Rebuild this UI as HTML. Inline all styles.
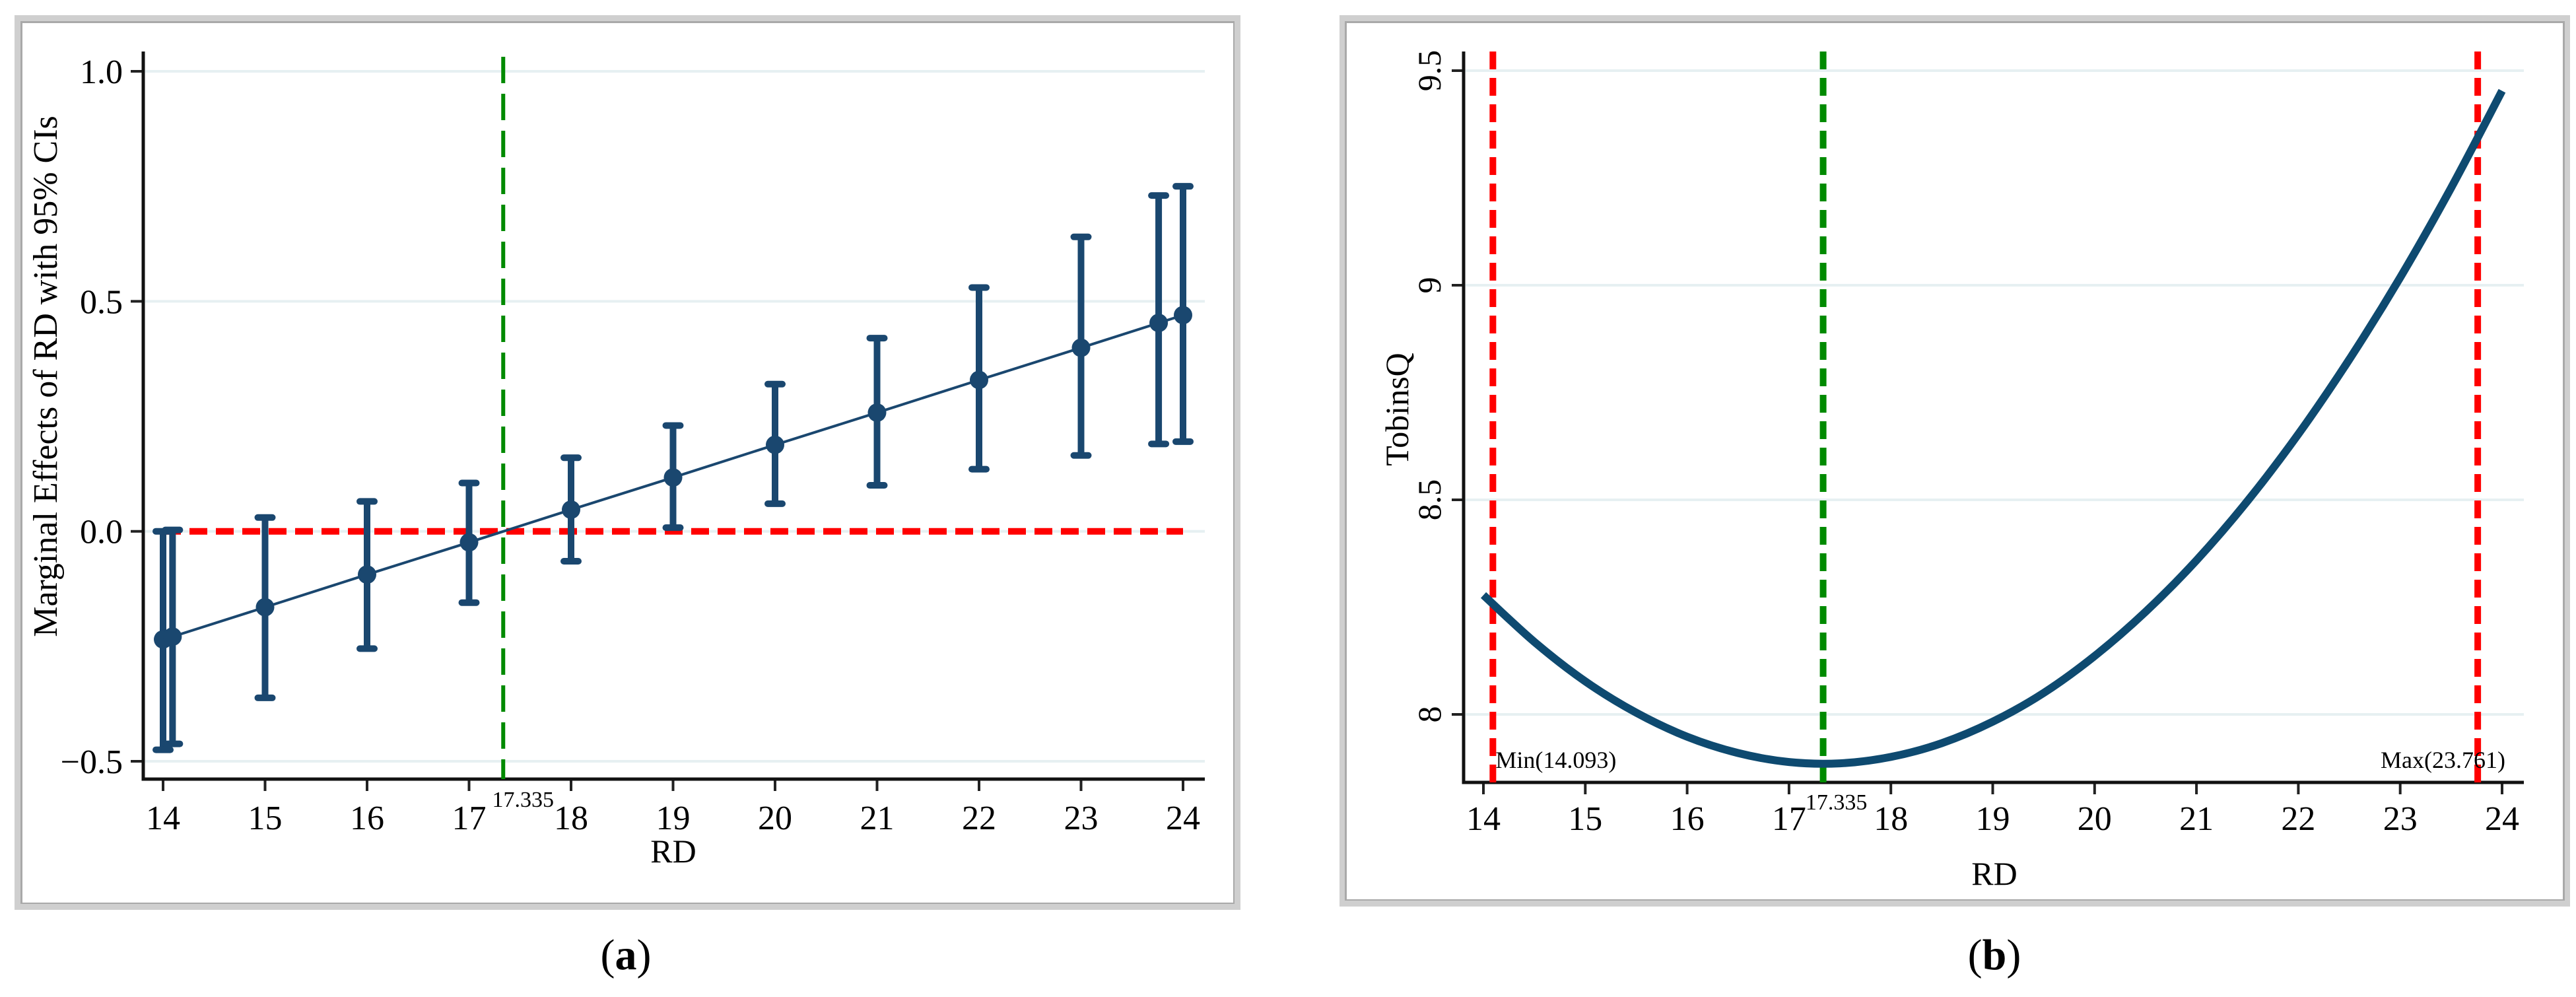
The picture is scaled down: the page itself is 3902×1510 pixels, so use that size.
<!DOCTYPE html>
<html><head><meta charset="utf-8"><style>
html,body{margin:0;padding:0;background:#fff;}
svg{display:block;}
svg text{font-family:"Liberation Serif","Times New Roman",serif;}
</style></head><body>
<svg id="fig" width="3902" height="1510" viewBox="0 0 3902 1510" xmlns="http://www.w3.org/2000/svg" font-family="Liberation Serif, serif">
<rect x="22" y="23" width="1857" height="1355" fill="#cfcfcf"/>
<rect x="31" y="32" width="1839" height="1337" fill="#a9a9a9"/>
<rect x="34" y="35" width="1834" height="1332" fill="#fff"/>
<rect x="2029" y="23" width="1864" height="1350" fill="#cfcfcf"/>
<rect x="2037" y="32" width="1848" height="1332" fill="#a9a9a9"/>
<rect x="2040" y="35" width="1842" height="1327" fill="#fff"/>
<g id="pa"></g>
<g id="pb"></g>
<text x="948" y="1468" font-size="66" text-anchor="middle">(<tspan font-weight="bold">a</tspan>)</text>
<text x="3021" y="1468" font-size="66" text-anchor="middle">(<tspan font-weight="bold">b</tspan>)</text>
</svg>
<script>
// Panel A data
const aX = [14, 14.093, 15, 16, 17, 18, 19, 20, 21, 22, 23, 23.761, 24];
const aEst = [-0.235, -0.229, -0.165, -0.094, -0.024, 0.047, 0.117, 0.188, 0.258, 0.329, 0.399, 0.453, 0.470];
const aLo = [-0.475, -0.462, -0.362, -0.255, -0.155, -0.065, 0.008, 0.060, 0.100, 0.135, 0.165, 0.190, 0.195];
const aHi = [0.000, 0.003, 0.030, 0.065, 0.105, 0.160, 0.230, 0.320, 0.420, 0.530, 0.640, 0.730, 0.750];
const aXTicks = [14, 15, 16, 17, 18, 19, 20, 21, 22, 23, 24];
const aYTicks = [-0.5, 0, 0.5, 1.0];
const aYTickLabels = ["\u22120.5", "0.0", "0.5", "1.0"];
const turning = 17.335;
// Panel B data
const bX = [14, 14.5, 15, 15.5, 16, 16.5, 17, 17.5, 18, 18.5, 19, 19.5, 20, 20.5, 21, 21.5, 22, 22.5, 23, 23.5, 24];
const bY = [8.278, 8.169, 8.077, 8.004, 7.948, 7.910, 7.889, 7.886, 7.901, 7.933, 7.983, 8.050, 8.136, 8.239, 8.359, 8.497, 8.653, 8.827, 9.018, 9.227, 9.453];
const bXTicks = [14, 15, 16, 17, 18, 19, 20, 21, 22, 23, 24];
const bYTicks = [8, 8.5, 9, 9.5];
const bYTickLabels = ["8", "8.5", "9", "9.5"];
const bMin = 14.093, bMax = 23.761;

const NS = "http://www.w3.org/2000/svg";
function mk(parent, tag, attrs, txt) {
  const e = document.createElementNS(NS, tag);
  for (const k in attrs) e.setAttribute(k, attrs[k]);
  if (txt !== undefined) e.textContent = txt;
  parent.appendChild(e);
  return e;
}
function smoothPath(P) {
  let d = `M${P[0][0]},${P[0][1]}`;
  for (let i = 0; i < P.length - 1; i++) {
    const p0 = P[Math.max(0, i - 1)], p1 = P[i], p2 = P[i + 1], p3 = P[Math.min(P.length - 1, i + 2)];
    const c1 = [p1[0] + (p2[0] - p0[0]) / 6, p1[1] + (p2[1] - p0[1]) / 6];
    const c2 = [p2[0] - (p3[0] - p1[0]) / 6, p2[1] - (p3[1] - p1[1]) / 6];
    d += ` C${c1[0]},${c1[1]} ${c2[0]},${c2[1]} ${p2[0]},${p2[1]}`;
  }
  return d;
}
const NAVY = "#1a476f";

// ---------- Panel A ----------
(function () {
  const g = document.getElementById('pa');
  const x = v => 247 + (v - 14) * 154.5;
  const y = v => 804.7 - v * 696.7;
  const x0 = 217, x1 = 1825, yb = 1180, yt = 78;
  aYTicks.forEach((t, i) => {
    const gl = mk(g, 'line', {x1: x0 + 3, x2: x1, y1: y(t), y2: y(t), stroke: '#e6f0f2', 'stroke-width': 4});
    
    
    const tk = mk(g, 'line', {x1: 198, x2: x0, y1: y(t), y2: y(t), stroke: '#222', 'stroke-width': 4});
    
    
    const lb = mk(g, 'text', {x: 186, y: y(t) + 18, 'font-size': 52, 'text-anchor': 'end'}, aYTickLabels[i]);
    
    
  });
  aXTicks.forEach(t => {
    const tk = mk(g, 'line', {x1: x(t), x2: x(t), y1: yb, y2: yb + 18, stroke: '#222', 'stroke-width': 4});
    
    
    const lb = mk(g, 'text', {x: x(t), y: 1256, 'font-size': 52, 'text-anchor': 'middle'}, String(t));
    
    
  });
  const ax = mk(g, 'path', {d: `M${x0},${yt} L${x0},${yb} L${x1},${yb}`, fill: 'none', stroke: '#111', 'stroke-width': 5});
  
  
  const zl = mk(g, 'line', {x1: x(14), x2: x(24), y1: y(0), y2: y(0), stroke: '#ff0000', 'stroke-width': 10, 'stroke-dasharray': '27 13'});
  
  
  const tl = mk(g, 'line', {x1: x(turning), x2: x(turning), y1: yt + 8, y2: yb, stroke: '#008a00', 'stroke-width': 6, 'stroke-dasharray': '40 16'});
  
  
  const tt = mk(g, 'text', {x: x(turning) + 30, y: 1222, 'font-size': 34, 'text-anchor': 'middle'}, String(turning));
  
  
  const pts = aX.map((v, i) => `${x(v)},${y(aEst[i])}`).join(' ');
  const pl = mk(g, 'polyline', {points: pts, fill: 'none', stroke: NAVY, 'stroke-width': 4});
  
  
  aX.forEach((v, i) => {
    const bar = mk(g, 'line', {x1: x(v), x2: x(v), y1: y(aLo[i]), y2: y(aHi[i]), stroke: NAVY, 'stroke-width': 10});
    
    
    [aLo[i], aHi[i]].forEach(c => {
      const cap = mk(g, 'line', {x1: x(v) - 11, x2: x(v) + 11, y1: y(c), y2: y(c), stroke: NAVY, 'stroke-width': 10, 'stroke-linecap': 'round'});
      
      
    });
    const pt = mk(g, 'circle', {cx: x(v), cy: y(aEst[i]), r: 14, fill: NAVY});
    
    
  });
  const yl = mk(g, 'text', {x: 0, y: 0, 'font-size': 52, 'text-anchor': 'middle', transform: 'translate(86,570) rotate(-90)'}, 'Marginal Effects of RD with 95% CIs');
  
  
  const xl = mk(g, 'text', {x: 1020, y: 1306, 'font-size': 50, 'text-anchor': 'middle'}, 'RD');
  
  
})();

// ---------- Panel B ----------
(function () {
  const g = document.getElementById('pb');
  const x = v => 2247 + (v - 14) * 154.3;
  const y = v => 107 + (9.5 - v) * 650;
  const x0 = 2217, x1 = 3823, yb = 1185, yt = 78;
  bYTicks.forEach((t, i) => {
    const gl = mk(g, 'line', {x1: x0 + 3, x2: x1, y1: y(t), y2: y(t), stroke: '#e6f0f2', 'stroke-width': 4});
    
    
    const tk = mk(g, 'line', {x1: 2199, x2: x0, y1: y(t), y2: y(t), stroke: '#222', 'stroke-width': 4});
    
    
    const lb = mk(g, 'text', {x: 0, y: 0, 'font-size': 50, 'text-anchor': 'middle', transform: `translate(2182,${y(t)}) rotate(-90)`}, bYTickLabels[i]);
    
    
  });
  bXTicks.forEach(t => {
    const tk = mk(g, 'line', {x1: x(t), x2: x(t), y1: yb, y2: yb + 18, stroke: '#222', 'stroke-width': 4});
    
    
    const lb = mk(g, 'text', {x: x(t), y: 1257, 'font-size': 52, 'text-anchor': 'middle'}, String(t));
    
    
  });
  const ax = mk(g, 'path', {d: `M${x0},${yt} L${x0},${yb} L${x1},${yb}`, fill: 'none', stroke: '#111', 'stroke-width': 5});
  
  
  [bMin, bMax].forEach(v => {
    const l = mk(g, 'line', {x1: x(v), x2: x(v), y1: yt, y2: yb, stroke: '#ff0000', 'stroke-width': 10, 'stroke-dasharray': '27 13'});
    
    
  });
  const tl = mk(g, 'line', {x1: x(turning), x2: x(turning), y1: yt, y2: yb, stroke: '#008a00', 'stroke-width': 10, 'stroke-dasharray': '27 13'});
  
  
  const P = bX.map((v, i) => [x(v), y(bY[i])]);
  const curve = mk(g, 'path', {d: smoothPath(P), fill: 'none', stroke: '#0e4a70', 'stroke-width': 12, 'stroke-linejoin': 'round'});
  
  
  const mn = mk(g, 'text', {x: x(bMin) + 4, y: 1163, 'font-size': 36}, 'Min(' + bMin.toFixed(3) + ')');
  
  
  const mxl = mk(g, 'text', {x: 3795, y: 1163, 'font-size': 36, 'text-anchor': 'end'}, 'Max(' + bMax.toFixed(3) + ')');
  
  
  const tt = mk(g, 'text', {x: x(turning) + 20, y: 1226, 'font-size': 34, 'text-anchor': 'middle'}, String(turning));
  
  
  const yl = mk(g, 'text', {x: 0, y: 0, 'font-size': 50, 'text-anchor': 'middle', transform: 'translate(2133,620) rotate(-90)'}, 'TobinsQ');
  
  
  const xl = mk(g, 'text', {x: 3021, y: 1340, 'font-size': 50, 'text-anchor': 'middle'}, 'RD');
  
  
})();
</script>
</body></html>
